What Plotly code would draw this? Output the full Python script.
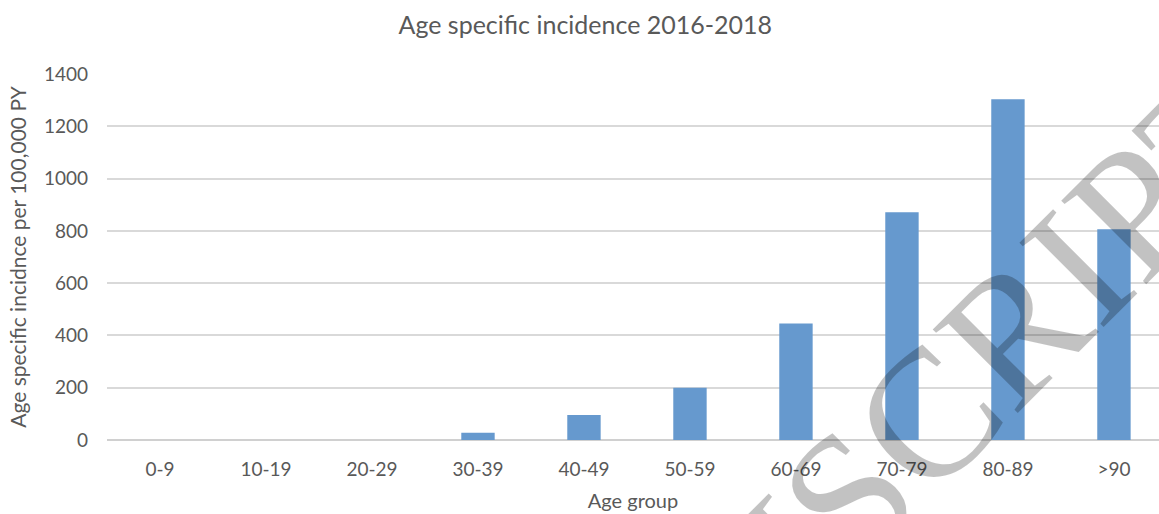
import plotly.graph_objects as go

# Age groups and incidence per 100,000 person-years
age_groups = ["0-9", "10-19", "20-29", "30-39", "40-49", "50-59", "60-69", "70-79", "80-89", ">90"]
incidence = [0, 0, 0, 28, 96, 200, 446, 871, 1303, 806]
y_ticks = [0, 200, 400, 600, 800, 1000, 1200, 1400]

FONT = "Lato, 'Open Sans', Arial, sans-serif"
TEXT_GRAY = "#595959"

fig = go.Figure(
    go.Bar(
        x=list(range(len(age_groups))),
        y=incidence,
        marker=dict(color="#6699CE", line=dict(width=0)),
        width=0.315,
    )
)

fig.update_layout(
    width=1159,
    height=514,
    margin=dict(l=107, r=0, t=74, b=74),
    paper_bgcolor="white",
    plot_bgcolor="white",
    showlegend=False,
    font=dict(family=FONT, color=TEXT_GRAY),
    title=dict(
        text="Age specific incidence 2016-2018",
        x=0.505,
        xanchor="center",
        y=0.951,
        yanchor="middle",
        font=dict(family=FONT, size=25, color=TEXT_GRAY),
    ),
    xaxis=dict(
        range=[-0.5, 9.425],
        tickmode="array",
        tickvals=list(range(len(age_groups))),
        ticktext=age_groups,
        showgrid=False,
        zeroline=False,
        showline=False,
        ticks="",
        ticklabelstandoff=16,
        tickfont=dict(family=FONT, size=19, color=TEXT_GRAY),
        title=dict(text="Age group", font=dict(family=FONT, size=20, color=TEXT_GRAY), standoff=14),
    ),
    yaxis=dict(
        range=[0, 1400],
        tickmode="array",
        tickvals=y_ticks,
        showgrid=True,
        gridcolor="#D9D9D9",
        gridwidth=1.5,
        zeroline=True,
        zerolinecolor="#D0D0D0",
        zerolinewidth=1.5,
        showline=False,
        ticks="",
        ticklabelstandoff=18,
        tickfont=dict(family=FONT, size=19, color=TEXT_GRAY),
        title=dict(
            text="Age specific incidnce per 100,000 PY",
            font=dict(family=FONT, size=21, color=TEXT_GRAY),
            standoff=11,
        ),
    ),
)

# Diagonal watermark across the lower right
fig.add_annotation(
    text="MANUSCRIPT",
    xref="paper",
    yref="paper",
    x=(833 - 107) / (1159 - 107),
    y=(440 - 510) / (440 - 74),
    xanchor="center",
    yanchor="middle",
    textangle=-45,
    showarrow=False,
    font=dict(family="'Liberation Serif', 'DejaVu Serif', serif", size=182, color="rgba(0,0,0,0.24)"),
)

fig.write_html("out.html")
